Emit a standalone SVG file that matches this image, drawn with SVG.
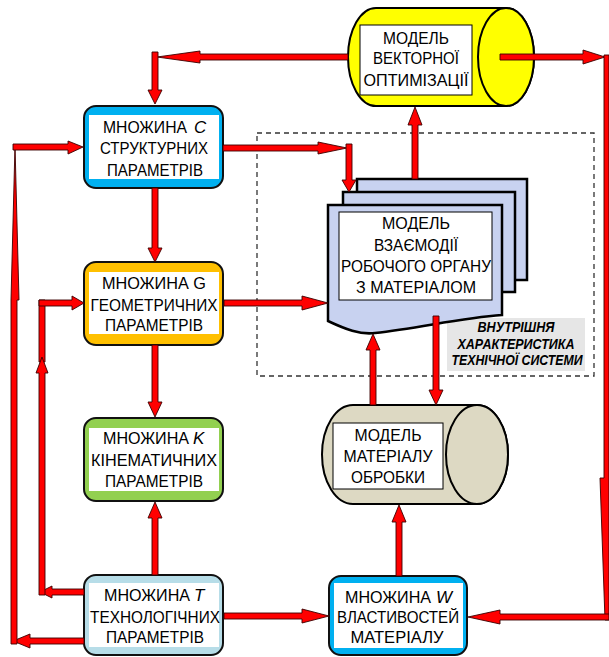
<svg xmlns="http://www.w3.org/2000/svg" width="609" height="657" viewBox="0 0 609 657">
<style>
.t{font-family:"Liberation Sans",Arial,sans-serif;font-size:17px;text-anchor:middle;fill:#000}
.s{text-anchor:start}
.i{font-style:italic}
.lab{font-family:"Liberation Sans",Arial,sans-serif;font-size:14px;font-weight:bold;font-style:italic;text-anchor:middle;fill:#000}
.box{stroke:#111;stroke-width:2}
.in{fill:#fff}
.arr{fill:#ff0000;stroke:#3a0000;stroke-width:0.9;stroke-linejoin:miter}
.cyl{stroke:#000;stroke-width:2}
.page{fill:#c8d2f0;stroke:#000;stroke-width:2.5}
.txtbox{fill:#fff;stroke:#000;stroke-width:1}
</style>
<rect width="609" height="657" fill="#fff"/>

<rect x="257" y="133" width="337" height="243" fill="none" stroke="#333" stroke-width="1.3" stroke-dasharray="5,4"/>

<g id="label-internal">
<rect x="447" y="318" width="138" height="53" fill="#e6e6e6"/>
<text class="lab" x="516" y="332" textLength="77" lengthAdjust="spacingAndGlyphs">ВНУТРІШНЯ</text>
<text class="lab" x="516" y="349" textLength="117" lengthAdjust="spacingAndGlyphs">ХАРАКТЕРИСТИКА</text>
<text class="lab" x="517" y="365" textLength="131" lengthAdjust="spacingAndGlyphs">ТЕХНІЧНОЇ СИСТЕМИ</text>
</g>

<g id="vector-model">
<path class="cyl" fill="#ffff00" d="M376,8 H506 A28,49 0 0 1 506,106 H376 A28,49 0 0 1 376,8 Z"/>
<ellipse class="cyl" fill="#ffff00" cx="506" cy="57" rx="28" ry="49"/>
<rect class="txtbox" x="360" y="25" width="112" height="70"/>
<text class="t" x="416" y="44" textLength="66" lengthAdjust="spacingAndGlyphs">МОДЕЛЬ</text>
<text class="t" x="416" y="64" textLength="86" lengthAdjust="spacingAndGlyphs">ВЕКТОРНОЇ</text>
<text class="t" x="416" y="86" textLength="105" lengthAdjust="spacingAndGlyphs">ОПТИМІЗАЦІЇ</text>
</g>

<g id="interaction-model">
<rect class="page" x="357" y="179" width="170" height="101"/>
<rect class="page" x="343" y="192" width="172" height="100"/>
<path class="page" d="M328,205 H502 V315 C460,318 420,328 375,333 C360,335 345,329 328,321 Z"/>
<rect class="txtbox" x="339" y="212" width="153" height="88"/>
<text class="t" x="416" y="229" textLength="68" lengthAdjust="spacingAndGlyphs">МОДЕЛЬ</text>
<text class="t" x="416" y="251" textLength="84" lengthAdjust="spacingAndGlyphs">ВЗАЄМОДІЇ</text>
<text class="t" x="416" y="272" textLength="150" lengthAdjust="spacingAndGlyphs">РОБОЧОГО ОРГАНУ</text>
<text class="t" x="416" y="293" textLength="120" lengthAdjust="spacingAndGlyphs">З МАТЕРІАЛОМ</text>
</g>

<g id="material-model">
<path class="cyl" fill="#ddd9c3" d="M353,405 H477 A31,49.5 0 0 1 477,504 H353 A31,49.5 0 0 1 353,405 Z"/>
<ellipse class="cyl" fill="#ddd9c3" cx="477" cy="454.5" rx="31" ry="49.5"/>
<rect class="txtbox" x="333" y="423" width="110" height="66"/>
<text class="t" x="388" y="441" textLength="67" lengthAdjust="spacingAndGlyphs">МОДЕЛЬ</text>
<text class="t" x="388" y="462" textLength="89" lengthAdjust="spacingAndGlyphs">МАТЕРІАЛУ</text>
<text class="t" x="388" y="483" textLength="74" lengthAdjust="spacingAndGlyphs">ОБРОБКИ</text>
</g>

<g id="set-C">
<rect class="box" x="84" y="106" width="139" height="82" rx="12" fill="#00b0f0"/>
<rect class="in" x="89" y="115" width="130" height="64"/>
<text class="t s" x="103" y="133" textLength="84" lengthAdjust="spacingAndGlyphs">МНОЖИНА</text>
<text class="t s i" x="194" y="133">C</text>
<text class="t" x="154" y="154" textLength="108" lengthAdjust="spacingAndGlyphs">СТРУКТУРНИХ</text>
<text class="t" x="155" y="176" textLength="96" lengthAdjust="spacingAndGlyphs">ПАРАМЕТРІВ</text>
</g>

<g id="set-G">
<rect class="box" x="84" y="262" width="139" height="83" rx="12" fill="#ffc000"/>
<rect class="in" x="89" y="272" width="130" height="62"/>
<text class="t" x="154" y="289" textLength="104" lengthAdjust="spacingAndGlyphs">МНОЖИНА G</text>
<text class="t" x="154" y="311" textLength="127" lengthAdjust="spacingAndGlyphs">ГЕОМЕТРИЧНИХ</text>
<text class="t" x="154" y="331" textLength="98" lengthAdjust="spacingAndGlyphs">ПАРАМЕТРІВ</text>
</g>

<g id="set-K">
<rect class="box" x="84" y="418" width="139" height="83" rx="12" fill="#92d050"/>
<rect class="in" x="89" y="428" width="130" height="63"/>
<text class="t s" x="103" y="444" textLength="86" lengthAdjust="spacingAndGlyphs">МНОЖИНА</text>
<text class="t s i" x="193" y="444">K</text>
<text class="t" x="154" y="466" textLength="126" lengthAdjust="spacingAndGlyphs">КІНЕМАТИЧНИХ</text>
<text class="t" x="154" y="487" textLength="98" lengthAdjust="spacingAndGlyphs">ПАРАМЕТРІВ</text>
</g>

<g id="set-T">
<rect class="box" x="84" y="575" width="139" height="80" rx="12" fill="#b7dde8"/>
<rect class="in" x="89" y="583" width="130" height="64"/>
<text class="t s" x="104" y="601" textLength="86" lengthAdjust="spacingAndGlyphs">МНОЖИНА</text>
<text class="t s i" x="194" y="601">T</text>
<text class="t" x="155" y="623" textLength="130" lengthAdjust="spacingAndGlyphs">ТЕХНОЛОГІЧНИХ</text>
<text class="t" x="155" y="643" textLength="98" lengthAdjust="spacingAndGlyphs">ПАРАМЕТРІВ</text>
</g>

<g id="set-W">
<rect class="box" x="329" y="576" width="138" height="79" rx="12" fill="#00b0f0"/>
<rect class="in" x="334" y="583" width="129" height="65"/>
<text class="t s" x="345" y="603" textLength="86" lengthAdjust="spacingAndGlyphs">МНОЖИНА</text>
<text class="t s i" x="436" y="603">W</text>
<text class="t" x="398" y="623" textLength="122" lengthAdjust="spacingAndGlyphs">ВЛАСТИВОСТЕЙ</text>
<text class="t" x="397" y="643" textLength="93" lengthAdjust="spacingAndGlyphs">МАТЕРІАЛУ</text>
</g>

<g id="connectors">
<polygon class="arr" points="348,54 200,54 200,51 157,57 200,63 200,60 348,60"/>
<polygon class="arr" points="152,52 158,52 158,90 162,90 155,104 148,90 152,90"/>
<polygon class="arr" points="223,145 318,145 318,142 347,148 318,154 318,151 223,151"/>
<polygon class="arr" points="346,144 352,144 352,180 356,180 349,192 342,180 346,180"/>
<polygon class="arr" points="152,188 158,188 158,248 162,248 155,262 148,248 152,248"/>
<polygon class="arr" points="152,345 158,345 158,402 162,402 155,417 148,402 152,402"/>
<polygon class="arr" points="152,575 158,575 158,518 162,518 155,502 148,518 152,518"/>
<polygon class="arr" points="224,300 302,300 302,296 328,303 302,310 302,306 224,306"/>
<polygon class="arr" points="224,613 302,613 302,609 329,616 302,623 302,619 224,619"/>
<polygon class="arr" points="396,576 402,576 402,522 406,522 399,505 392,522 396,522"/>
<polygon class="arr" points="370,405 376,405 376,350 380,350 373,334 366,350 370,350"/>
<polygon class="arr" points="433,316 439,316 439,390 443,390 436,405 429,390 433,390"/>
<polygon class="arr" points="412,179 418,179 418,125 422,125 415,107 408,125 412,125"/>
<polygon class="arr" points="500,54 583,54 583,50 605,57 583,64 583,60 500,60"/>
<polygon class="arr" points="604,55 609,55 609,620 605,620 600,478 604,478"/>
<polygon class="arr" points="609,614 500,614 500,610 468,617 500,624 500,620 609,620"/>
<polygon class="arr" points="84,589 52,589 52,586 40,592 52,598 52,595 84,595"/>
<polygon class="arr" points="39,300 45,300 45,362 39,362"/>
<polygon class="arr" points="39,595 45,595 45,373 48,373 42,357 36,373 39,373"/>
<polygon class="arr" points="39,300 72,300 72,296 84,303 72,310 72,306 39,306"/>
<polygon class="arr" points="84,638 30,638 30,634 13,641 30,648 30,644 84,644"/>
<polygon class="arr" points="11,644 17,644 17,300 19,300 15,145 11,300"/>
<polygon class="arr" points="13,144 68,144 68,141 83,147 68,154 68,150 13,150"/>
</g>
</svg>
